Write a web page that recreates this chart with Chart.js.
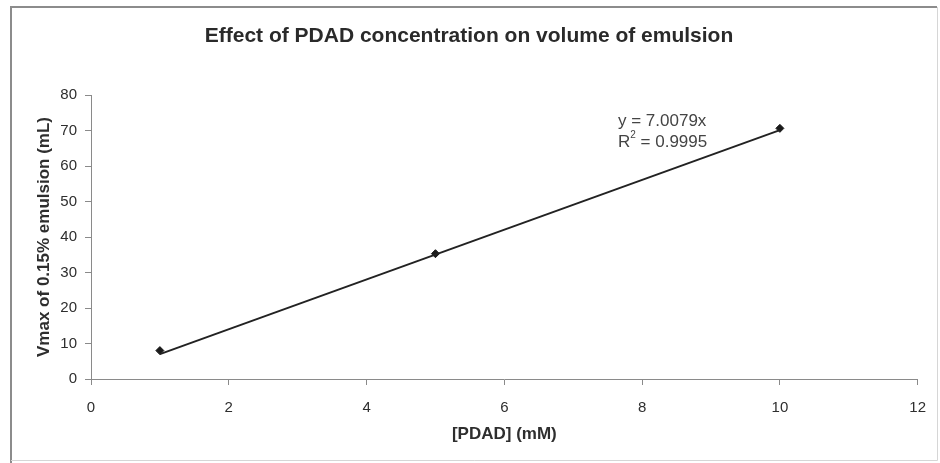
<!DOCTYPE html>
<html>
<head>
<meta charset="utf-8">
<script src="https://cdn.jsdelivr.net/npm/chart.js@4.4.1/dist/chart.umd.min.js"></script>
<style>
	html, body { margin: 0; padding: 0; background: #fff; }
	#wrap { width: 940px; height: 463px; }
</style>
</head>
<body>
<div id="wrap"><canvas id="chartPdad" width="940" height="463"></canvas></div>
<script>
var pdadConc = [1, 5, 10];
var vmaxVol = [8.0, 35.3, 70.6];

// linear trendline (through origin), end points as drawn
var trendConc = [1, 10];
var trendVol = [7.0, 70.1];

var xTicks = [0, 2, 4, 6, 8, 10, 12];
var yTicks = [0, 10, 20, 30, 40, 50, 60, 70, 80];

var eqnText = "y = 7.0079x";
var r2Text = "0.9995";

var textColor = "#2e2e2e";
var axisColor = "#8a8a8a";
var fontFam = '"Liberation Sans", Arial, sans-serif';

function toPoints(xs, ys){
	var out = [];
	for (var i = 0; i < xs.length; i++){ out.push({x: xs[i], y: ys[i]}); }
	return out;
}

// page frame + equation label
var framePlugin = {
	id: 'frame',
	beforeDraw: function(chart){
		var ctx = chart.ctx;
		ctx.save();
		ctx.fillStyle = '#fff';
		ctx.fillRect(0, 0, chart.width, chart.height);
		ctx.lineWidth = 2;
		ctx.strokeStyle = '#8c8c8c';
		ctx.beginPath();
		ctx.moveTo(11, 463); ctx.lineTo(11, 7); ctx.lineTo(937, 7);
		ctx.stroke();
		ctx.lineWidth = 1;
		ctx.strokeStyle = '#d6d6d6';
		ctx.beginPath();
		ctx.moveTo(937.5, 7); ctx.lineTo(937.5, 460.5); ctx.lineTo(11, 460.5);
		ctx.stroke();
		ctx.restore();
	},
	afterDatasetsDraw: function(chart){
		var ctx = chart.ctx;
		ctx.save();
		ctx.fillStyle = '#444';
		ctx.textBaseline = 'middle';
		ctx.font = '17px ' + fontFam;
		var x0 = 618;
		ctx.fillText(eqnText, x0, 121);
		ctx.fillText("R", x0, 142);
		var w = ctx.measureText("R").width;
		ctx.font = '10px ' + fontFam;
		ctx.fillText("2", x0 + w, 135);
		var w2 = ctx.measureText("2").width;
		ctx.font = '17px ' + fontFam;
		ctx.fillText(" = " + r2Text, x0 + w + w2, 142);
		ctx.restore();
	}
};

var chart_settings = {
	type: 'scatter',
	data: {
		datasets: [{
			label: 'Trend',
			data: toPoints(trendConc, trendVol),
			showLine: true,
			borderColor: '#222',
			borderWidth: 2,
			pointRadius: 0
		}, {
			label: 'Vmax',
			data: toPoints(pdadConc, vmaxVol),
			showLine: false,
			pointStyle: 'rectRot',
			pointRadius: 4,
			backgroundColor: '#1a1a1a',
			borderColor: '#1a1a1a'
		}]
	},
	options: {
		responsive: false,
		animation: false,
		layout: { padding: { left: 20, right: 22, top: 0, bottom: 0 } },
		plugins: {
			legend: { display: false },
			tooltip: { enabled: false },
			title: {
				display: true,
				text: 'Effect of PDAD concentration on volume of emulsion',
				color: '#2a2a2a',
				font: { family: fontFam, size: 21, weight: 'bold' },
				padding: { top: 24, bottom: 45.8 }
			}
		},
		scales: {
			x: {
				type: 'linear',
				min: 0, max: 12,
				afterBuildTicks: function(scale){ scale.ticks = xTicks.map(function(v){ return {value: v}; }); },
				afterFit: function(scale){ scale.height = 84; },
				grid: { drawOnChartArea: false, drawTicks: true, tickLength: 6, color: axisColor },
				border: { display: true, color: axisColor, width: 1 },
				ticks: { color: textColor, padding: 14, font: { family: fontFam, size: 15 } },
				title: {
					display: true, text: '[PDAD] (mM)', color: textColor,
					font: { family: fontFam, size: 17, weight: 'bold' },
					padding: { top: 0, bottom: 18 }
				}
			},
			y: {
				type: 'linear',
				min: 0, max: 80,
				afterBuildTicks: function(scale){ scale.ticks = yTicks.map(function(v){ return {value: v}; }); },
				afterFit: function(scale){ scale.width = 71; },
				grid: { drawOnChartArea: false, drawTicks: true, tickLength: 6, color: axisColor },
				border: { display: true, color: axisColor, width: 1 },
				ticks: { color: textColor, padding: 8, font: { family: fontFam, size: 15 } },
				title: {
					display: true, text: 'Vmax of 0.15% emulsion (mL)', color: textColor,
					font: { family: fontFam, size: 17, weight: 'bold' },
					padding: { top: 14, bottom: 0 }
				}
			}
		}
	},
	plugins: [framePlugin]
};

var chart_pdad = new Chart(document.getElementById('chartPdad'), chart_settings);
</script>
</body>
</html>
